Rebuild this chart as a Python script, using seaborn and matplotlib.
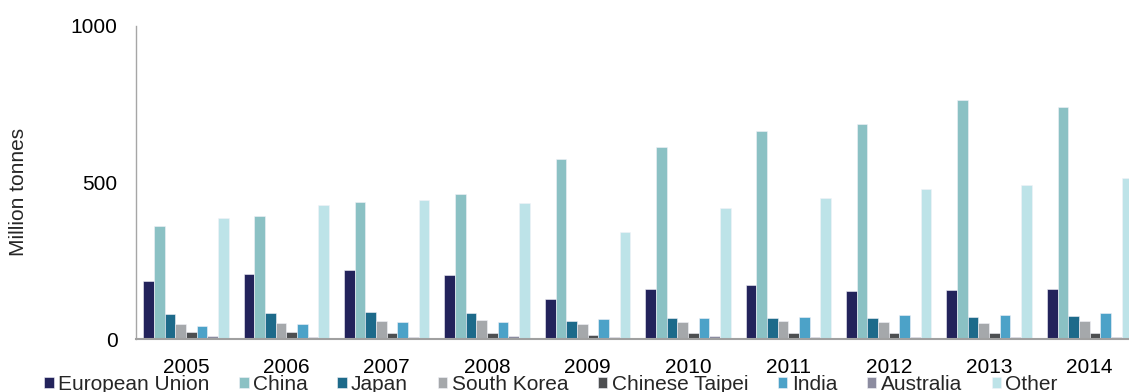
import matplotlib
matplotlib.use("Agg")
import matplotlib.pyplot as plt
import seaborn as sns
import pandas as pd

# Crude steel production by region, million tonnes
years = ["2005", "2006", "2007", "2008", "2009", "2010", "2011", "2012", "2013", "2014"]
regions = ["European Union", "China", "Japan", "South Korea", "Chinese Taipei",
           "India", "Australia", "Other"]

european_union = [184, 209, 222, 206, 128, 161, 172, 152, 155, 159]
china = [362, 393, 437, 464, 574, 612, 664, 686, 763, 740]
japan = [80, 82, 86, 83, 56, 66, 67, 67, 70, 72]
south_korea = [48, 50, 57, 61, 47, 54, 58, 54, 51, 57]
chinese_taipei = [23, 23, 19, 20, 14, 20, 20, 18, 20, 20]
india = [43, 48, 55, 54, 63, 68, 71, 77, 78, 83]
australia = [8, 6, 6, 8, 5, 8, 6, 5, 5, 5]
other = [387, 429, 445, 433, 343, 417, 450, 480, 491, 515]

colors = ["#23235B", "#8BC1C4", "#1D6A8A", "#A5A8AB", "#4D4F51",
          "#4CA2C8", "#8C8CA0", "#BDE3E8"]

series = [european_union, china, japan, south_korea, chinese_taipei,
          india, australia, other]
df = pd.DataFrame(
    [(y, r, v) for r, vals in zip(regions, series) for y, v in zip(years, vals)],
    columns=["year", "region", "value"],
)

sns.set_theme(style="white")
plt.rcParams["font.family"] = ["Liberation Sans", "DejaVu Sans"]

fig = plt.figure(figsize=(11.29, 3.92), dpi=100)
ax = fig.add_axes([0.1202, 0.1352, 0.8893, 0.7985])

sns.barplot(data=df, x="year", y="value", hue="region", hue_order=regions,
            order=years, palette=colors, saturation=1, width=0.85, gap=0,
            ax=ax, legend=True, edgecolor="#F2F2F8", linewidth=0.4)

ax.set_xlim(-0.5, 9.5)
ax.set_ylim(0, 1000)
ax.set_yticks([0, 500, 1000])
ax.tick_params(axis="both", length=0, labelsize=15, colors="black")
ax.tick_params(axis="y", pad=13)
ax.tick_params(axis="x", pad=14)
ax.set_xlabel("")
ax.set_ylabel("Million tonnes", fontsize=15)
ax.yaxis.set_label_coords(-0.107, 0.47)

for side in ["top", "right"]:
    ax.spines[side].set_visible(False)
ax.spines["left"].set_color("#A6A6A6")
ax.spines["left"].set_linewidth(1.0)
ax.spines["bottom"].set_color("#A0A0A0")
ax.spines["bottom"].set_linewidth(1.5)

handles, labels = ax.get_legend_handles_labels()
ax.get_legend().remove()
fig.legend(handles, labels, loc="center left", bbox_to_anchor=(0.0392, 0.02),
           ncol=8, frameon=False, fontsize=15, handlelength=0.45,
           handleheight=0.45, handletextpad=0.2, columnspacing=1.44,
           borderaxespad=0, borderpad=0)

fig.savefig("out.png", dpi=100)
